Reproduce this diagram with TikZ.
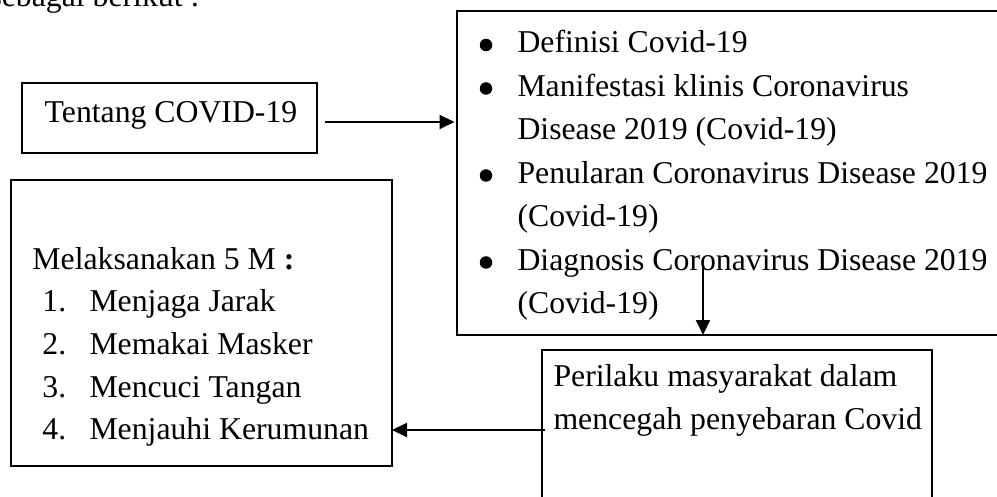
\documentclass[tikz,border=0pt]{standalone}
\usepackage{fontspec}
\setmainfont{Liberation Serif}
\usetikzlibrary{arrows.meta}
\begin{document}
\begin{tikzpicture}[x=0.4pt,y=-0.4pt,
  box/.style={draw, line width=0.9pt, inner sep=0pt, outer sep=0pt, anchor=north west},
  txt/.style={anchor=base west, inner sep=0pt, font=\fontsize{12.7}{17.4}\selectfont},
  bul/.style={circle, fill, inner sep=0pt, minimum size=5pt},
  conn/.style={line width=0.8pt, -{Triangle[length=6pt,width=5.6pt]}}]
\useasboundingbox (0,0) rectangle (997,497);
\clip (0,0) rectangle (997,497);
% intro text (cut off at top)
\node[txt] (intro) at (-11,7) {sebagai berikut :};
% boxes
\node[box, minimum width=118pt, minimum height=28pt] (tbox) at (22,83) {};
\node[box, minimum width=221.2pt, minimum height=129.6pt] (rbox) at (457,11) {};
\node[box, minimum width=152.4pt, minimum height=114.4pt] (lbox) at (11,180) {};
\node[box, minimum width=156pt, minimum height=80pt] (bbox) at (542,350) {};
% texts
\node[txt, anchor=base] (ttxt) at (171,123) {Tentang COVID-19};
\node[bul] (b1) at (486,45) {};
\node[txt] (r1) at (517,53) {Definisi Covid-19};
\node[bul] (b2) at (486,88.5) {};
\node[txt] (r2) at (517,96.5) {Manifestasi klinis Coronavirus};
\node[txt] (r3) at (517,140) {Disease 2019 (Covid-19)};
\node[bul] (b3) at (486,175.5) {};
\node[txt] (r4) at (517,183.5) {Penularan Coronavirus Disease 2019};
\node[txt] (r5) at (517,227) {(Covid-19)};
\node[bul] (b4) at (486,262.5) {};
\node[txt] (r6) at (517,270.5) {Diagnosis Coronavirus Disease 2019};
\node[txt] (r7) at (517,314) {(Covid-19)};
\node[txt] (lh) at (32,270) {Melaksanakan 5 M \textbf{:}};
\node[txt] (n1) at (42,312) {1.};
\node[txt] (l1) at (89,312) {Menjaga Jarak};
\node[txt] (n2) at (42,354.5) {2.};
\node[txt] (l2) at (89,354.5) {Memakai Masker};
\node[txt] (n3) at (42,397.5) {3.};
\node[txt] (l3) at (89,397.5) {Mencuci Tangan};
\node[txt] (n4) at (42,440) {4.};
\node[txt] (l4) at (89,440) {Menjauhi Kerumunan};
\node[txt] (p1) at (553,387) {Perilaku masyarakat dalam};
\node[txt] (p2) at (553,430) {mencegah penyebaran Covid};
% connectors
\coordinate (a1s) at (325,122);
\coordinate (a2s) at (703,262);
\coordinate (a3s) at (545,430);
\draw[conn] (a1s) -- ([xshift=-1pt]rbox.west |- a1s);
\draw[conn] (a2s) -- (a2s |- rbox.south);
\draw[conn] (a3s) -- (a3s -| lbox.east);
\end{tikzpicture}
\end{document}
